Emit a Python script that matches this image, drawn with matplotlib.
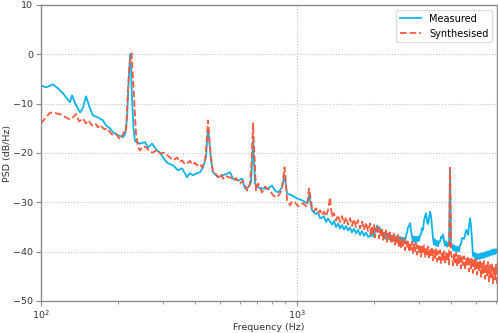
import numpy as np
import matplotlib
matplotlib.use("Agg")
import matplotlib.pyplot as plt

# ---- measured PSD below ~1.9 kHz (Hz, dB/Hz) ----
meas_f_lo = [100.0, 104.6, 111.4, 116.5, 121.9, 125.2, 129.8, 132.2, 135.8, 142.1,
             145.9, 149.9, 155.4, 159.6, 167.0, 174.7, 179.5, 186.0, 191.1, 199.9,
             209.1, 212.9, 216.8, 219.7, 222.7, 224.7, 226.7, 229.8, 232.9, 237.1,
             243.7, 254.9, 261.8, 271.4, 283.9, 291.6, 305.1, 313.4, 327.8, 342.9,
             355.4, 371.8, 381.9, 392.4, 406.8, 417.9, 429.3, 441.0, 449.1, 461.4,
             469.8, 491.4, 514.0, 537.7, 547.3, 562.3, 588.2, 609.8, 626.5, 643.6,
             661.3, 673.1, 685.5, 704.2, 736.6, 770.5, 798.7, 820.5, 843.0, 873.9,
             893.7, 914.0, 956.1, 1000, 1046, 1094, 1114,
             1144, 1165, 1186, 1208, 1230, 1252, 1274, 1298, 1321, 1345,
             1370, 1394, 1420, 1446, 1472, 1498, 1526, 1553, 1582, 1610,
             1639, 1669, 1699, 1730, 1762, 1794, 1826, 1859, 1893]
meas_db_lo = [-6.3, -6.7, -6.1, -6.9, -7.9, -8.7, -9.7, -8.3, -9.9, -11.8,
              -10.8, -8.5, -11.0, -12.4, -12.8, -13.4, -14.4, -15.0, -15.8, -16.4,
              -16.8, -16.2, -13.0, -6.0, 0.0, -3.0, -9.0, -15.0, -17.6, -17.8,
              -18.1, -17.8, -18.9, -18.1, -19.5, -19.9, -21.5, -22.1, -22.5, -23.5,
              -23.1, -24.9, -24.1, -24.5, -24.1, -23.9, -22.9, -20.9, -14.8, -21.5,
              -23.9, -24.9, -24.5, -24.1, -23.9, -25.2, -25.6, -25.2, -27.2, -27.0,
              -26.0, -17.5, -26.2, -27.0, -27.2, -27.2, -26.6, -27.6, -28.0, -27.0,
              -24.5, -28.2, -28.6, -29.2, -29.6, -30.2, -28.6,
              -31.6, -32.1, -32.4, -32.0, -33.2, -33.1, -32.8, -34.0, -33.3, -33.9,
              -34.5, -33.8, -35.0, -34.3, -35.3, -34.6, -35.5, -34.8, -35.7, -35.1,
              -36.1, -35.3, -36.3, -35.6, -36.6, -35.8, -36.8, -36.1, -37.0]

# ---- synthesised PSD below ~1.9 kHz ----
syn_f_lo = [100.0, 104.6, 108.4, 113.5, 119.6, 125.2, 129.8, 134.5, 137.0, 140.9,
            145.9, 149.9, 153.6, 157.8, 163.1, 167.0, 170.1, 176.7, 181.6, 186.0,
            191.1, 197.2, 202.7, 206.9, 211.0, 214.8, 218.2, 221.7, 225.7, 228.3,
            231.6, 235.0, 239.3, 243.7, 250.3, 259.5, 266.6, 273.8, 283.9, 291.6,
            305.1, 313.4, 319.0, 327.8, 339.8, 349.1, 355.4, 365.2, 371.8, 381.9,
            388.9, 399.6, 406.8, 417.9, 425.5, 437.2, 443.0, 449.1, 455.1, 461.4,
            469.8, 482.6, 491.4, 504.9, 514.0, 528.1, 537.7, 552.3, 562.3, 577.7,
            598.8, 615.3, 637.9, 655.2, 664.2, 673.1, 682.4, 691.7, 704.2, 730.0,
            749.9, 763.6, 784.3, 805.9, 835.4, 858.1, 873.9, 885.7, 893.7, 901.8,
            914.0, 939.0, 956.1, 982.2, 1009, 1027, 1055, 1075, 1094, 1114,
            1144, 1165, 1186, 1208, 1230, 1252, 1274, 1298, 1321, 1345,
            1370, 1394, 1420, 1446, 1472, 1498, 1526, 1553, 1582, 1610,
            1639, 1669, 1699, 1730, 1762, 1794, 1826, 1859, 1893]
syn_db_lo = [-14.0, -12.8, -11.8, -11.9, -12.2, -12.8, -13.2, -12.6, -12.1, -13.6,
             -13.0, -14.0, -13.4, -14.4, -14.0, -14.8, -14.3, -15.2, -15.0, -15.8,
             -16.4, -16.2, -17.2, -16.6, -15.8, -15.9, -8.0, -2.0, 0.2, -4.0,
             -10.0, -16.0, -18.8, -19.5, -18.6, -19.0, -19.8, -19.9, -19.4, -20.1,
             -19.9, -20.6, -20.9, -21.5, -20.9, -21.8, -21.5, -22.3, -22.1, -21.6,
             -22.4, -22.0, -22.5, -22.2, -22.9, -21.5, -18.0, -13.4, -17.5, -21.0,
             -23.9, -24.3, -24.9, -24.2, -25.2, -24.6, -24.9, -25.0, -25.6, -25.1,
             -26.2, -25.6, -27.6, -26.2, -22.0, -14.0, -21.0, -27.6, -26.2, -28.0,
             -26.8, -27.2, -27.6, -28.6, -29.0, -28.2, -27.0, -24.5, -22.9, -25.0,
             -29.6, -30.6, -29.8, -30.0, -30.8, -30.6, -30.2, -30.6, -30.9, -27.2,
             -31.0, -31.8, -31.2, -32.2, -31.6, -32.6, -31.9, -32.8, -31.6, -29.0,
             -33.0, -32.2, -33.7, -32.6, -34.0, -32.8, -34.3, -33.0, -34.5, -33.2,
             -34.8, -33.4, -35.0, -33.6, -35.3, -33.9, -35.6, -34.1, -35.8]

# ---- high-frequency part (~1.93-6.04 kHz), shared frequency grid ----
hf_f = [1929, 1946, 1964, 1981, 1999, 2017, 2035, 2054, 2072, 2091,
        2110, 2129, 2148, 2168, 2187, 2207, 2227, 2247, 2267, 2288,
        2309, 2329, 2350, 2372, 2393, 2415, 2437, 2459, 2481, 2503,
        2526, 2549, 2572, 2595, 2618, 2642, 2666, 2690, 2714, 2739,
        2763, 2788, 2814, 2839, 2865, 2891, 2917, 2943, 2970, 2996,
        3023, 3051, 3078, 3106, 3134, 3163, 3191, 3220, 3249, 3278,
        3308, 3338, 3368, 3398, 3429, 3460, 3491, 3523, 3555, 3587,
        3619, 3652, 3685, 3718, 3752, 3786, 3820, 3854, 3889, 3924,
        3960, 3996, 4032, 4068, 4105, 4142, 4179, 4217, 4255, 4294,
        4332, 4371, 4411, 4451, 4491, 4532, 4573, 4614, 4656, 4698,
        4740, 4783, 4826, 4870, 4914, 4958, 5003, 5048, 5094, 5140,
        5186, 5233, 5280, 5328, 5376, 5425, 5474, 5523, 5573, 5623,
        5674, 5725, 5777, 5829, 5882, 5935, 5989, 6043]
meas_db_hi = [-36.9, -35.8, -36.8, -35.6, -37.0, -35.9, -35.3, -34.7, -36.0, -35.0,
              -35.4, -36.7, -35.9, -37.2, -36.1, -37.4, -36.3, -37.6, -36.5, -37.5,
              -36.6, -37.7, -36.7, -37.8, -36.8, -37.9, -36.9, -38.0, -37.0, -37.9,
              -37.0, -38.1, -37.1, -38.0, -37.2, -37.9, -36.6, -36.2, -35.0, -34.8,
              -34.2, -35.8, -37.0, -38.0, -36.9, -38.1, -37.0, -38.0, -36.9, -37.8,
              -36.6, -36.5, -35.2, -35.6, -33.6, -32.8, -32.2, -33.9, -34.4, -33.2,
              -31.9, -32.8, -35.2, -37.4, -38.6, -37.5, -38.8, -37.8, -38.9, -37.9,
              -38.0, -37.0, -37.2, -36.5, -37.8, -38.8, -37.9, -39.0, -38.2, -38.8,
              -23.0, -39.1, -38.5, -39.7, -38.7, -39.9, -38.9, -40.0, -39.0, -39.9,
              -38.6, -38.4, -37.2, -37.3, -37.4, -36.6, -35.6, -35.9, -36.6, -34.7,
              -33.2, -34.8, -37.8, -40.9, -40.2, -41.5, -40.4, -41.6, -40.5, -41.5,
              -40.4, -41.4, -40.3, -41.3, -40.2, -41.2, -40.0, -41.0, -39.9, -40.9,
              -39.8, -40.7, -39.6, -40.6, -39.5, -40.5, -39.5, -40.2]
syn_db_hi = [-34.3, -36.8, -35.1, -36.2, -34.6, -37.1, -35.4, -36.0, -34.9, -37.3,
             -35.6, -36.9, -35.2, -37.6, -36.0, -37.2, -35.7, -38.0, -36.3, -37.4,
             -36.1, -38.3, -36.7, -37.9, -36.4, -38.6, -37.0, -38.2, -36.6, -39.0,
             -37.2, -39.4, -37.6, -38.8, -37.3, -39.7, -37.9, -39.2, -37.7, -40.0,
             -38.2, -39.6, -38.0, -40.3, -38.5, -39.9, -38.3, -40.6, -38.8, -40.2,
             -38.6, -41.0, -39.0, -40.4, -38.7, -41.2, -39.3, -40.7, -39.0, -41.5,
             -39.4, -41.0, -39.1, -41.8, -39.7, -41.3, -39.5, -42.0, -39.9, -41.6,
             -39.7, -42.3, -40.1, -41.7, -39.9, -42.5, -40.3, -41.9, -40.0, -42.6,
             -23.0, -40.4, -41.2, -42.8, -40.6, -42.2, -40.3, -43.1, -40.8, -42.5,
             -40.6, -43.4, -41.1, -42.7, -40.9, -43.7, -41.4, -42.9, -41.0, -44.0,
             -41.5, -43.4, -41.2, -44.3, -41.8, -43.6, -41.5, -44.7, -42.0, -44.0,
             -41.7, -45.1, -42.3, -44.4, -41.9, -45.5, -42.5, -44.8, -42.1, -46.0,
             -42.7, -45.2, -42.4, -46.4, -43.0, -45.6, -42.6, -47.0]

meas_f = meas_f_lo + hf_f
meas_db = meas_db_lo + meas_db_hi
syn_f = syn_f_lo + hf_f
syn_db = syn_db_lo + syn_db_hi

BLUE = "#0db4ec"
RED = "#fa5a3c"
TXT = "#333333"
SPINE = "#8a8a8a"

plt.rcParams.update({
    "font.family": "DejaVu Sans", "font.size": 6.8,
    "axes.edgecolor": SPINE, "axes.linewidth": 1.0,
    "xtick.color": SPINE, "ytick.color": SPINE,
    "xtick.labelcolor": TXT, "ytick.labelcolor": TXT,
    "axes.labelcolor": TXT,
    "xtick.major.pad": 2, "ytick.major.pad": 2,
})

fig = plt.figure(figsize=(4.98, 3.33), dpi=100)
ax = fig.add_axes([41 / 498, 32 / 333, 456 / 498, 296 / 333])

ax.semilogx(meas_f, meas_db, "-", color=BLUE, lw=1.3, label="Measured")
ax.semilogx(syn_f, syn_db, "--", color=RED, lw=1.3, label="Synthesised")

ax.set_xlim(100, 6040)
ax.set_ylim(-50, 10)
ax.set_yticks(np.arange(-50, 11, 10))
ax.grid(True, which="major", ls=":", color="#c4c4c4", lw=0.8)
ax.tick_params(which="major", length=3.5, width=0.8)
ax.tick_params(which="minor", length=2, width=0.6)
ax.set_xlabel("Frequency (Hz)", labelpad=1)
ax.set_ylabel("PSD (dB/Hz)", labelpad=1)
ax.legend(loc="upper right", fontsize=7.0, framealpha=1, edgecolor="#dddddd",
          handlelength=2.2)

fig.savefig("out.png", dpi=100)
